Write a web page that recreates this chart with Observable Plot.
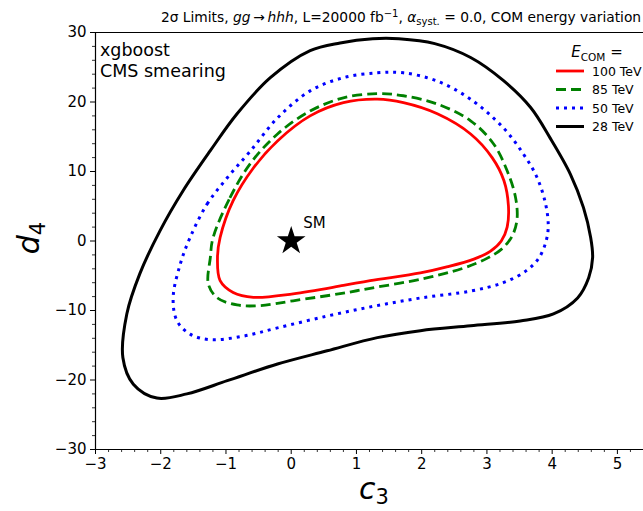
<!DOCTYPE html>
<html>
<head>
<meta charset="utf-8">
<script src="https://cdn.jsdelivr.net/npm/d3@7"></script>
<script src="https://cdn.jsdelivr.net/npm/@observablehq/plot@0.6"></script>
<style>
  html, body { margin: 0; padding: 0; background: #fff; }
  svg { display: block; }
</style>
</head>
<body>
<div id="chart"></div>
<script>
// ---- data ----
const xTicks = [-3, -2, -1, 0, 1, 2, 3, 4, 5];
const yTicks = [-30, -20, -10, 0, 10, 20, 30];
const seriesNames = ["100 TeV", "85 TeV", "50 TeV", "28 TeV"];

const c100 = [
  [-1.09, 0.5], [-0.89, 5.8], [-0.58, 10.5], [-0.21, 14.4], [0.29, 18.0], [0.80, 19.9],
  [1.32, 20.4], [1.72, 19.9], [2.24, 18.3], [2.75, 15.4], [3.08, 12.0], [3.26, 8.7],
  [3.33, 5.0], [3.31, 2.0], [3.22, 0.0], [3.05, -1.5], [2.80, -2.6], [2.40, -3.7],
  [1.98, -4.6], [1.21, -5.7], [0.80, -6.4], [0.03, -7.6], [-0.58, -8.1], [-0.89, -7.4],
  [-1.09, -5.7], [-1.13, -2.4]
];
const c85 = [
  [-1.20, 0.4], [-0.94, 6.2], [-0.63, 11.1], [-0.21, 15.4], [0.29, 18.7], [0.80, 20.6],
  [1.32, 21.2], [1.72, 20.9], [2.24, 19.7], [2.75, 17.3], [3.10, 14.0], [3.31, 10.1],
  [3.44, 6.2], [3.46, 3.0], [3.38, 0.6], [3.22, -1.2], [3.00, -2.5], [2.64, -3.9],
  [1.98, -5.5], [1.21, -6.8], [0.80, -7.5], [0.03, -8.6], [-0.48, -9.3], [-0.83, -9.2],
  [-1.13, -8.2], [-1.27, -6.2], [-1.24, -2.4]
];
const c50 = [
  [-1.55, 0.5], [-1.29, 5.3], [-0.98, 9.1], [-0.63, 12.9], [-0.21, 17.7], [0.29, 21.6],
  [0.80, 23.5], [1.32, 24.2], [1.72, 24.2], [2.24, 23.0], [2.75, 20.4], [3.25, 16.3],
  [3.56, 12.5], [3.77, 9.1], [3.90, 5.3], [3.94, 2.2], [3.91, 0.1], [3.80, -2.4],
  [3.60, -4.3], [3.25, -6.0], [2.75, -7.2], [1.98, -8.2], [1.26, -9.4], [0.55, -10.8],
  [-0.21, -12.5], [-0.74, -13.7], [-1.24, -14.2], [-1.55, -13.4], [-1.75, -11.5],
  [-1.81, -8.2], [-1.70, -3.3]
];
const c28 = [
  [-2.01, 1.5], [-1.66, 7.2], [-1.24, 13.0], [-0.83, 18.3], [-0.32, 23.5], [0.29, 27.4],
  [0.75, 28.5], [1.25, 29.1], [1.65, 29.1], [2.20, 28.4], [2.75, 26.4], [3.25, 23.1],
  [3.67, 19.2], [3.97, 14.8], [4.28, 9.6], [4.48, 4.8], [4.59, 0.5], [4.62, -2.4],
  [4.56, -5.3], [4.39, -8.2], [4.02, -10.5], [3.51, -11.5], [2.75, -12.2], [1.98, -12.9],
  [1.32, -13.9], [0.55, -15.8], [-0.21, -17.7], [-0.98, -20.1], [-1.60, -22.0],
  [-2.06, -22.6], [-2.42, -20.6], [-2.58, -16.8], [-2.52, -10.5], [-2.32, -4.7]
];
const smPoint = [[0, 0]];
const smLabel = "SM";

// ---- styles ----
const styles = [
  {stroke: "#ff0000", strokeWidth: 2.8, dash: null},
  {stroke: "#008000", strokeWidth: 2.8, dash: "10,5"},
  {stroke: "#0000ff", strokeWidth: 3, dash: "3,5"},
  {stroke: "#000000", strokeWidth: 3, dash: null}
];
const curves = [c100, c85, c50, c28];

const fmt = d => (d < 0 ? "\u2212" + Math.abs(d) : String(d));
const xMinor = d3.range(-3, 5.41, 0.2).map(v => Math.round(v * 10) / 10).filter(v => !xTicks.includes(v));
const yMinor = d3.range(-30, 30.1, 2).filter(v => !yTicks.includes(v));

const lineMarks = curves.map((c, i) => Plot.line(c, {
  x: d => d[0], y: d => d[1],
  curve: "catmull-rom-closed",
  stroke: styles[i].stroke,
  strokeWidth: styles[i].strokeWidth,
  strokeDasharray: styles[i].dash,
  strokeLinecap: "butt"
}));

const svg = Plot.plot({
  width: 643,
  height: 511,
  marginLeft: 95,
  marginRight: 0,
  marginTop: 32,
  marginBottom: 62,
  style: {fontFamily: "DejaVu Sans", background: "white", color: "black"},
  x: {domain: [-3, 5.4]},
  y: {domain: [-30, 30]},
  marks: [
    Plot.axisX({ticks: xTicks, tickSize: 5, tickPadding: 4, tickFormat: fmt, fontSize: 15, label: null, stroke: "black", strokeWidth: 1}),
    Plot.axisX({ticks: xMinor, tickSize: 3, tickFormat: () => "", label: null, stroke: "black", strokeWidth: 0.8}),
    Plot.axisY({ticks: yTicks, tickSize: 5, tickPadding: 4, tickFormat: fmt, fontSize: 15, label: null, stroke: "black", strokeWidth: 1}),
    Plot.axisY({ticks: yMinor, tickSize: 3, tickFormat: () => "", label: null, stroke: "black", strokeWidth: 0.8}),
    Plot.ruleX([-3], {stroke: "black", strokeWidth: 1.2}),
    Plot.ruleY([-30, 30], {stroke: "black", strokeWidth: 1.2}),
    ...lineMarks,
    Plot.dot(smPoint, {x: d => d[0], y: d => d[1], symbol: "star", r: 9, fill: "black", stroke: "none"}),
    Plot.text(smPoint, {x: d => d[0], y: d => d[1], text: () => smLabel, dx: 12, dy: -18, textAnchor: "start", fontSize: 15, fill: "black"})
  ]
});

const s = d3.select(svg);

// Title
const t = s.append("text").attr("x", 401).attr("y", 22).attr("text-anchor", "middle")
  .attr("font-size", 13.8).attr("fill", "black");
t.append("tspan").text("2\u03c3 Limits, ");
t.append("tspan").attr("font-style", "italic").text("gg");
t.append("tspan").text("\u2009\u2192\u2009");
t.append("tspan").attr("font-style", "italic").text("hhh");
t.append("tspan").text(", L=20000 fb");
t.append("tspan").attr("font-size", 10).attr("dy", -5).text("\u22121");
t.append("tspan").attr("dy", 5).text(", ");
t.append("tspan").attr("font-style", "italic").text("\u03b1");
t.append("tspan").attr("font-size", 10).attr("dy", 3).text("syst.");
t.append("tspan").attr("dy", -3).text(" = 0.0, COM energy variation");

// Top-left annotation
s.append("text").attr("x", 100).attr("y", 56).attr("text-anchor", "start").attr("font-size", 17.5).attr("fill", "black").text("xgboost");
s.append("text").attr("x", 100).attr("y", 77).attr("text-anchor", "start").attr("font-size", 17.5).attr("fill", "black").text("CMS smearing");

// Axis labels
const xl = s.append("text").attr("x", 374).attr("y", 499).attr("text-anchor", "middle").attr("font-size", 30).attr("fill", "black");
xl.append("tspan").attr("font-style", "italic").text("c");
xl.append("tspan").attr("font-size", 21).attr("dy", 5).text("3");

const yl = s.append("text").attr("transform", "translate(39,238) rotate(-90)").attr("text-anchor", "middle").attr("font-size", 30).attr("fill", "black");
yl.append("tspan").attr("font-style", "italic").text("d");
yl.append("tspan").attr("font-size", 21).attr("dy", 6).text("4");

// Legend
const lt = s.append("text").attr("x", 597).attr("y", 57).attr("text-anchor", "middle").attr("font-size", 15).attr("fill", "black");
lt.append("tspan").attr("font-style", "italic").text("E");
lt.append("tspan").attr("font-size", 10.5).attr("dy", 4).text("COM");
lt.append("tspan").attr("dy", -4).text(" =");
const legY = [71, 89.5, 108, 126.5];
seriesNames.forEach((name, i) => {
  s.append("line").attr("x1", 556).attr("x2", 584).attr("y1", legY[i]).attr("y2", legY[i])
    .attr("stroke", styles[i].stroke).attr("stroke-width", styles[i].strokeWidth)
    .attr("stroke-dasharray", styles[i].dash);
  s.append("text").attr("x", 592).attr("y", legY[i] + 4.5).attr("text-anchor", "start").attr("font-size", 12.5).attr("fill", "black").text(name);
});

document.getElementById("chart").appendChild(svg);
</script>
</body>
</html>
